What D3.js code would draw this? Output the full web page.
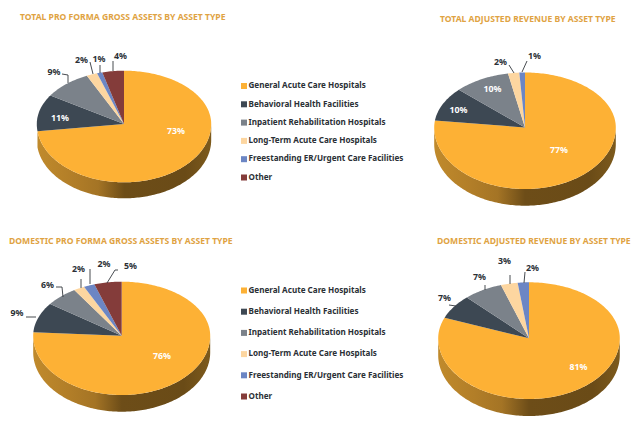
<!DOCTYPE html>
<html><head><meta charset="utf-8">
<script src="https://cdn.jsdelivr.net/npm/d3@7/dist/d3.min.js"></script>
<style>html,body{margin:0;padding:0;background:#fff}svg{display:block}text{font-family:"Noto Sans",sans-serif;font-weight:700}</style>
</head><body><svg id="c" width="640" height="428"></svg>
<script>
const categories=["General Acute Care Hospitals","Behavioral Health Facilities","Inpatient Rehabilitation Hospitals","Long-Term Acute Care Hospitals","Freestanding ER/Urgent Care Facilities","Other"];
const colors=["#fdb135","#3d4853","#7b828a","#fdd6a0","#6c86c4","#843c3a"];
const totalAssets=[73,11,9,2,1,4];
const totalRevenue=[77,10,10,2,1,0];
const domesticAssets=[76,9,6,2,2,5];
const domesticRevenue=[81,7,7,3,2,0];
const titles=["TOTAL PRO FORMA GROSS ASSETS BY ASSET TYPE","TOTAL ADJUSTED REVENUE BY ASSET TYPE","DOMESTIC PRO FORMA GROSS ASSETS BY ASSET TYPE","DOMESTIC ADJUSTED REVENUE BY ASSET TYPE"];

const svg=d3.select("#c");
const defs=svg.append("defs");
const color=d3.scaleOrdinal(categories,colors);

// layout only: pie geometry and label placement
const panels=[
 {values:totalAssets,title:titles[0],tx:20,ty:19.5,ax:124,ay:124,rx:87.2,top:53.3,bot:58.3,depth:16,
  labels:{0:{p:[176,132],c:"#fff"},1:{p:[60,119],c:"#fff"},2:{p:[54,72.5],l:[[62,74],[68,75],[68,83]]},3:{p:[81.5,60.5],l:[[90,62],[93,74]]},4:{p:[99,59.5],l:[[100,65],[100,73]]},5:{p:[120.5,57],l:[[113,61],[113,71]]}}},
 {values:totalRevenue,title:titles[1],tx:440,ty:22,ax:525,ay:127.5,rx:90.8,top:55,bot:61.5,depth:16.7,
  labels:{0:{p:[559,151],c:"#fff"},1:{p:[458.5,110.5],c:"#fff"},2:{p:[492.5,90],c:"#fff"},3:{p:[500.5,63],l:[[509,65],[514,73]]},4:{p:[534.5,57],l:[[527,61],[522,72]]}}},
 {values:domesticAssets,title:titles[2],tx:9,ty:244,ax:121.7,ay:335.7,rx:88.5,top:54,bot:59.3,depth:16.7,
  labels:{0:{p:[162,356.5],c:"#fff"},1:{p:[17,313.5],l:[[26,317],[36,317]]},2:{p:[47.5,285.5],l:[[56,287],[62,287],[63,297]]},3:{p:[78.5,270],l:[[81,279],[81,288]]},4:{p:[104,265],l:[[90,269],[90,284]]},5:{p:[130.5,267],l:[[118,270],[115,270],[107,283]]}}},
 {values:domesticRevenue,title:titles[3],tx:437,ty:244,ax:529,ay:338.3,rx:90.8,top:56,bot:60.7,depth:17,
  labels:{0:{p:[578.5,368],c:"#fff"},1:{p:[444.5,299],l:[[449,305],[456,306]]},2:{p:[479.5,278],l:[[485,285],[485,290]]},3:{p:[504.5,262],l:[[510,275],[510,284]]},4:{p:[532.5,268.5],l:[[525,272],[524,283]]}}}
];
const pieGen=d3.pie().sort(null).value(d=>d);

const gradId="wall";
const g=defs.append("linearGradient").attr("id",gradId).attr("x1",0).attr("x2",1).attr("y1",0).attr("y2",0);
[[0,"#c08a2c"],[.2,"#b27e28"],[.35,"#a47425"],[.5,"#6d4d18"],[.85,"#6a4b17"],[1,"#7d5a1c"]].forEach(s=>g.append("stop").attr("offset",s[0]).attr("stop-color",s[1]));

panels.forEach(P=>{
  const project=(a,dy=0)=>{const c=Math.cos(a);return [P.ax+P.rx*Math.sin(a),P.ay+dy-(c>0?P.top:P.bot)*c];};
  const line=d3.line();
  const sample=(a0,a1)=>{const n=Math.max(2,Math.ceil(Math.abs(a1-a0)/0.02));return d3.range(n+1).map(i=>a0+(a1-a0)*i/n);};
  const arcs=pieGen(P.values);
  const end=Math.min(arcs[0].endAngle,1.5*Math.PI);
  const start=Math.PI/2;
  const front=sample(start,end).map(a=>project(a));
  const back=sample(end,start).map(a=>project(a,P.depth));
  svg.append("path").attr("d",line(front.concat(back))+"Z").attr("fill",`url(#${gradId})`);
  svg.append("g").selectAll("path").data(arcs.filter(d=>d.value>0)).join("path")
    .attr("d",d=>line([[P.ax,P.ay]].concat(sample(d.startAngle,d.endAngle).map(a=>project(a))))+"Z")
    .attr("fill",d=>colors[d.index]);
  svg.append("text").attr("x",P.tx).attr("y",P.ty).attr("font-size",8.58).attr("fill","#dfa343").text(P.title);
  arcs.forEach(d=>{
    const L=P.labels[d.index]; if(!L||d.value===0) return;
    if(L.l) svg.append("path").attr("d",line(L.l)).attr("fill","none").attr("stroke","#33383d").attr("stroke-width",.9);
    svg.append("text").attr("x",L.p[0]).attr("y",L.p[1]).attr("text-anchor","middle").attr("dominant-baseline","middle")
      .attr("font-size",8.8).attr("fill",L.c||"#2b3036").text(d3.format("d")(d.value)+"%");
  });
});

const legends=[{x:241,y0:86,step:18.3},{x:241,y0:290.5,step:21.2}];
legends.forEach(Lg=>{
  const row=svg.append("g").selectAll("g").data(categories).join("g").attr("transform",(d,i)=>`translate(${Lg.x},${Lg.y0+i*Lg.step})`);
  row.append("rect").attr("x",0).attr("y",-3).attr("width",6).attr("height",6).attr("fill",d=>color(d));
  row.append("text").attr("x",7.5).attr("y",0).attr("dominant-baseline","middle").attr("font-size",8.1).attr("fill","#2b3036").text(d=>d);
});
</script></body></html>
